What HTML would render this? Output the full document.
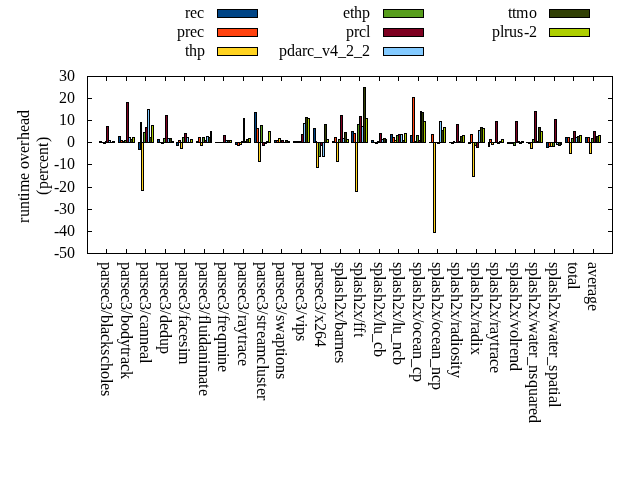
<!DOCTYPE html>
<html><head><meta charset="utf-8"><title>runtime overhead</title>
<style>html,body{margin:0;padding:0;background:#fff;overflow:hidden}svg{display:block}text{font-family:"Liberation Serif","DejaVu Serif",serif;font-size:16px;fill:#000}</style></head><body>
<svg width="640" height="480" viewBox="0 0 640 480">
<rect width="640" height="480" fill="#fff"/>
<g shape-rendering="crispEdges">
<path fill="#000" d="M99 141h3v2h-3zM118 136h3v7h-3zM138 142h3v8h-3zM157 139h3v4h-3zM176 142h3v4h-3zM196 141h3v2h-3zM215 142h3v1h-3zM235 142h3v3h-3zM254 112h3v31h-3zM274 140h3v3h-3zM293 141h3v2h-3zM313 128h3v15h-3zM332 141h3v2h-3zM351 131h3v12h-3zM371 140h3v3h-3zM390 134h3v9h-3zM410 135h3v8h-3zM429 142h3v1h-3zM449 142h3v1h-3zM468 142h3v2h-3zM488 142h2v5h-2zM507 142h3v2h-3zM526 142h3v1h-3zM546 142h3v6h-3zM565 137h3v6h-3zM585 137h3v6h-3z"/>
<path fill="#004586" d="M119 137h1v5h-1zM139 143h1v6h-1zM158 140h1v2h-1zM177 143h1v2h-1zM236 143h1v1h-1zM255 113h1v29h-1zM275 141h1v1h-1zM314 129h1v13h-1zM352 132h1v10h-1zM372 141h1v1h-1zM391 135h1v7h-1zM411 136h1v6h-1zM547 143h1v4h-1zM566 138h1v4h-1zM586 138h1v4h-1z"/>
<path fill="#000" d="M101 142h3v1h-3zM120 140h3v3h-3zM140 122h2v21h-2zM159 142h3v1h-3zM178 140h3v3h-3zM198 137h3v6h-3zM217 142h3v1h-3zM237 142h3v4h-3zM256 128h3v15h-3zM276 140h3v3h-3zM295 141h3v2h-3zM315 141h2v2h-2zM334 137h3v6h-3zM353 133h3v10h-3zM373 142h3v1h-3zM392 137h3v6h-3zM412 97h3v46h-3zM431 134h3v9h-3zM451 142h3v2h-3zM470 134h3v9h-3zM489 139h3v4h-3zM509 142h3v2h-3zM528 142h3v2h-3zM548 142h3v5h-3zM567 137h3v6h-3zM587 137h3v6h-3z"/>
<path fill="#ff420e" d="M121 141h1v1h-1zM179 141h1v1h-1zM199 138h1v4h-1zM238 143h1v2h-1zM257 129h1v13h-1zM277 141h1v1h-1zM335 138h1v4h-1zM354 134h1v8h-1zM393 138h1v4h-1zM413 98h1v44h-1zM432 135h1v7h-1zM471 135h1v7h-1zM490 140h1v2h-1zM549 143h1v3h-1zM568 138h1v4h-1zM588 138h1v4h-1z"/>
<path fill="#000" d="M103 142h3v2h-3zM122 141h3v2h-3zM141 142h3v49h-3zM161 142h3v2h-3zM180 142h3v7h-3zM200 142h3v4h-3zM219 142h3v1h-3zM239 142h3v3h-3zM258 142h3v20h-3zM278 138h3v5h-3zM297 141h3v2h-3zM316 142h3v26h-3zM336 142h3v20h-3zM355 142h3v50h-3zM375 142h3v2h-3zM394 140h3v3h-3zM414 141h3v2h-3zM433 142h3v91h-3zM453 141h2v2h-2zM472 142h3v35h-3zM491 142h3v3h-3zM511 142h3v2h-3zM530 142h3v7h-3zM550 142h3v5h-3zM569 142h3v12h-3zM589 142h3v12h-3z"/>
<path fill="#ffd320" d="M142 143h1v47h-1zM181 143h1v5h-1zM201 143h1v2h-1zM240 143h1v1h-1zM259 143h1v18h-1zM279 139h1v3h-1zM317 143h1v24h-1zM337 143h1v18h-1zM356 143h1v48h-1zM395 141h1v1h-1zM434 143h1v89h-1zM473 143h1v33h-1zM492 143h1v1h-1zM531 143h1v5h-1zM551 143h1v3h-1zM570 143h1v10h-1zM590 143h1v10h-1z"/>
<path fill="#000" d="M105 141h2v2h-2zM124 140h3v3h-3zM143 132h3v11h-3zM163 138h3v5h-3zM182 137h3v6h-3zM202 137h3v6h-3zM221 142h3v1h-3zM241 141h3v2h-3zM260 125h3v18h-3zM280 140h2v3h-2zM299 141h3v2h-3zM318 142h3v15h-3zM338 139h3v4h-3zM357 124h3v19h-3zM377 141h3v2h-3zM396 135h3v8h-3zM416 135h3v8h-3zM435 142h3v1h-3zM454 142h3v1h-3zM474 142h3v4h-3zM493 142h3v1h-3zM513 142h3v4h-3zM532 139h3v4h-3zM552 142h3v5h-3zM571 138h3v5h-3zM591 138h3v5h-3z"/>
<path fill="#579d1c" d="M125 141h1v1h-1zM144 133h1v9h-1zM164 139h1v3h-1zM183 138h1v4h-1zM203 138h1v4h-1zM261 126h1v16h-1zM319 143h1v13h-1zM339 140h1v2h-1zM358 125h1v17h-1zM397 136h1v6h-1zM417 136h1v6h-1zM475 143h1v2h-1zM514 143h1v2h-1zM533 140h1v2h-1zM553 143h1v3h-1zM572 139h1v3h-1zM592 139h1v3h-1z"/>
<path fill="#000" d="M106 126h3v17h-3zM126 102h3v41h-3zM145 127h3v16h-3zM165 115h3v28h-3zM184 133h3v10h-3zM204 140h3v3h-3zM223 135h3v8h-3zM243 118h2v25h-2zM262 142h3v4h-3zM281 140h3v3h-3zM301 134h3v9h-3zM320 142h3v4h-3zM340 115h3v28h-3zM359 116h3v27h-3zM379 133h3v10h-3zM398 134h3v9h-3zM418 140h3v3h-3zM437 142h3v2h-3zM456 124h3v19h-3zM476 142h3v6h-3zM495 121h3v22h-3zM515 121h3v22h-3zM534 111h3v32h-3zM554 119h3v24h-3zM573 131h3v12h-3zM593 131h3v12h-3z"/>
<path fill="#7e0021" d="M107 127h1v15h-1zM127 103h1v39h-1zM146 128h1v14h-1zM166 116h1v26h-1zM185 134h1v8h-1zM205 141h1v1h-1zM224 136h1v6h-1zM263 143h1v2h-1zM282 141h1v1h-1zM302 135h1v7h-1zM321 143h1v2h-1zM341 116h1v26h-1zM360 117h1v25h-1zM380 134h1v8h-1zM399 135h1v7h-1zM419 141h1v1h-1zM457 125h1v17h-1zM477 143h1v4h-1zM496 122h1v20h-1zM516 122h1v20h-1zM535 112h1v30h-1zM555 120h1v22h-1zM574 132h1v10h-1zM594 132h1v10h-1z"/>
<path fill="#000" d="M108 140h3v3h-3zM128 137h3v6h-3zM147 109h3v34h-3zM167 138h3v5h-3zM186 137h3v6h-3zM206 136h3v7h-3zM225 140h3v3h-3zM244 141h3v2h-3zM264 142h3v2h-3zM283 142h3v1h-3zM303 123h3v20h-3zM322 142h3v15h-3zM342 138h3v5h-3zM361 126h3v17h-3zM381 139h3v4h-3zM400 134h3v9h-3zM420 111h2v32h-2zM439 121h3v22h-3zM458 141h3v2h-3zM478 130h3v13h-3zM497 142h3v2h-3zM517 141h3v2h-3zM536 141h3v2h-3zM556 142h3v3h-3zM575 137h3v6h-3zM595 137h2v6h-2z"/>
<path fill="#83caff" d="M109 141h1v1h-1zM129 138h1v4h-1zM148 110h1v32h-1zM168 139h1v3h-1zM187 138h1v4h-1zM207 137h1v5h-1zM226 141h1v1h-1zM304 124h1v18h-1zM323 143h1v13h-1zM343 139h1v3h-1zM362 127h1v15h-1zM382 140h1v2h-1zM401 135h1v7h-1zM440 122h1v20h-1zM479 131h1v11h-1zM557 143h1v1h-1zM576 138h1v4h-1z"/>
<path fill="#000" d="M110 142h3v1h-3zM130 139h3v4h-3zM149 137h3v6h-3zM169 138h3v5h-3zM188 142h3v1h-3zM208 137h3v6h-3zM227 140h3v3h-3zM246 139h3v4h-3zM266 141h3v2h-3zM285 140h3v3h-3zM305 117h3v26h-3zM324 124h3v19h-3zM344 132h3v11h-3zM363 87h3v56h-3zM383 138h3v5h-3zM402 140h3v3h-3zM421 112h3v31h-3zM441 130h3v13h-3zM460 136h3v7h-3zM480 127h3v16h-3zM499 141h3v2h-3zM519 142h3v2h-3zM538 127h3v16h-3zM558 142h3v4h-3zM577 136h3v7h-3zM596 136h3v7h-3z"/>
<path fill="#314004" d="M131 140h1v2h-1zM150 138h1v4h-1zM170 139h1v3h-1zM209 138h1v4h-1zM228 141h1v1h-1zM247 140h1v2h-1zM286 141h1v1h-1zM306 118h1v24h-1zM325 125h1v17h-1zM345 133h1v9h-1zM364 88h1v54h-1zM384 139h1v3h-1zM403 141h1v1h-1zM422 113h1v29h-1zM442 131h1v11h-1zM461 137h1v5h-1zM481 128h1v14h-1zM539 128h1v14h-1zM559 143h1v2h-1zM578 137h1v5h-1zM597 137h1v5h-1z"/>
<path fill="#000" d="M112 141h3v2h-3zM132 137h3v6h-3zM151 125h3v18h-3zM171 141h3v2h-3zM190 139h3v4h-3zM210 131h2v12h-2zM229 140h3v3h-3zM248 138h3v5h-3zM268 131h3v12h-3zM287 141h3v2h-3zM307 118h3v25h-3zM326 139h3v4h-3zM346 139h3v4h-3zM365 118h3v25h-3zM385 139h2v4h-2zM404 133h3v10h-3zM423 121h3v22h-3zM443 127h3v16h-3zM462 135h3v8h-3zM482 128h3v15h-3zM501 139h3v4h-3zM521 141h3v2h-3zM540 131h3v12h-3zM560 142h2v3h-2zM579 135h3v8h-3zM598 135h3v8h-3z"/>
<path fill="#aecf00" d="M133 138h1v4h-1zM152 126h1v16h-1zM191 140h1v2h-1zM230 141h1v1h-1zM249 139h1v3h-1zM269 132h1v10h-1zM308 119h1v23h-1zM327 140h1v2h-1zM347 140h1v2h-1zM366 119h1v23h-1zM405 134h1v8h-1zM424 122h1v20h-1zM444 128h1v14h-1zM463 136h1v6h-1zM483 129h1v13h-1zM502 140h1v2h-1zM541 132h1v10h-1zM580 136h1v6h-1zM599 136h1v6h-1z"/>
</g>
<g shape-rendering="crispEdges" stroke="#000" stroke-width="1" fill="none">
<path d="M87.5 253.5h4.5M612.5 253.5h-4.5M87.5 231.5h4.5M612.5 231.5h-4.5M87.5 209.5h4.5M612.5 209.5h-4.5M87.5 187.5h4.5M612.5 187.5h-4.5M87.5 164.5h4.5M612.5 164.5h-4.5M87.5 142.5h4.5M612.5 142.5h-4.5M87.5 120.5h4.5M612.5 120.5h-4.5M87.5 98.5h4.5M612.5 98.5h-4.5M87.5 76.5h4.5M612.5 76.5h-4.5M106.5 76.5v4.5M106.5 253.5v-4.5M126.5 76.5v4.5M126.5 253.5v-4.5M145.5 76.5v4.5M145.5 253.5v-4.5M165.5 76.5v4.5M165.5 253.5v-4.5M184.5 76.5v4.5M184.5 253.5v-4.5M204.5 76.5v4.5M204.5 253.5v-4.5M223.5 76.5v4.5M223.5 253.5v-4.5M243.5 76.5v4.5M243.5 253.5v-4.5M262.5 76.5v4.5M262.5 253.5v-4.5M281.5 76.5v4.5M281.5 253.5v-4.5M301.5 76.5v4.5M301.5 253.5v-4.5M320.5 76.5v4.5M320.5 253.5v-4.5M340.5 76.5v4.5M340.5 253.5v-4.5M359.5 76.5v4.5M359.5 253.5v-4.5M379.5 76.5v4.5M379.5 253.5v-4.5M398.5 76.5v4.5M398.5 253.5v-4.5M418.5 76.5v4.5M418.5 253.5v-4.5M437.5 76.5v4.5M437.5 253.5v-4.5M456.5 76.5v4.5M456.5 253.5v-4.5M476.5 76.5v4.5M476.5 253.5v-4.5M495.5 76.5v4.5M495.5 253.5v-4.5M515.5 76.5v4.5M515.5 253.5v-4.5M534.5 76.5v4.5M534.5 253.5v-4.5M554.5 76.5v4.5M554.5 253.5v-4.5M573.5 76.5v4.5M573.5 253.5v-4.5M593.5 76.5v4.5M593.5 253.5v-4.5"/>
<rect x="87.5" y="76.5" width="525.0" height="177.0"/>
</g>
<text x="54 59 67" y="259 258 258">-50</text>
<text x="54 59 67" y="237 236 236">-40</text>
<text x="54 59 67" y="215 214 214">-30</text>
<text x="54 59 67" y="193 192 192">-20</text>
<text x="54 59 67" y="170 169 169">-10</text>
<text x="67" y="147">0</text>
<text x="59 67" y="125">10</text>
<text x="59 67" y="103">20</text>
<text x="59 67" y="81">30</text>
<text transform="translate(101,262) rotate(90)" x="0 8 15 20 26 33 40 48 53 61 65 72 79 87 94 101 109 117 121 128" y="0">parsec3/blackscholes</text>
<text transform="translate(121,262) rotate(90)" x="0 8 15 20 26 33 40 48 53 61 69 77 85 89 95 102 109" y="0">parsec3/bodytrack</text>
<text transform="translate(140,262) rotate(90)" x="0 8 15 20 26 33 40 48 53 60 67 75 83 90 97" y="0">parsec3/canneal</text>
<text transform="translate(160,262) rotate(90)" x="0 8 15 20 26 33 40 48 53 61 68 76 84" y="0">parsec3/dedup</text>
<text transform="translate(179,262) rotate(90)" x="0 8 15 20 26 33 40 48 53 58 65 72 79 86 90" y="0">parsec3/facesim</text>
<text transform="translate(199,262) rotate(90)" x="0 8 15 20 26 33 40 48 53 58 63 71 75 83 90 98 103 115 122 127" y="0">parsec3/fluidanimate</text>
<text transform="translate(218,262) rotate(90)" x="0 8 15 20 26 33 40 48 53 58 63 71 79 91 95 103" y="0">parsec3/freqmine</text>
<text transform="translate(238,262) rotate(90)" x="0 8 15 20 26 33 40 48 53 58 65 73 78 83 90 97" y="0">parsec3/raytrace</text>
<text transform="translate(257,262) rotate(90)" x="0 8 15 20 26 33 40 48 53 59 63 69 76 83 95 103 107 115 121 126 133" y="0">parsec3/streamcluster</text>
<text transform="translate(276,262) rotate(90)" x="0 8 15 20 26 33 40 48 53 59 71 78 86 90 95 103 111" y="0">parsec3/swaptions</text>
<text transform="translate(296,262) rotate(90)" x="0 8 15 20 26 33 40 48 53 61 65 73" y="0">parsec3/vips</text>
<text transform="translate(315,262) rotate(90)" x="0 8 15 20 26 33 40 48 53 61 69 77" y="0">parsec3/x264</text>
<text transform="translate(335,262) rotate(90)" x="0 6 14 18 25 32 40 48 56 60 68 75 80 88 95" y="0">splash2x/barnes</text>
<text transform="translate(354,262) rotate(90)" x="0 6 14 18 25 32 40 48 56 60 65 71" y="0">splash2x/fft</text>
<text transform="translate(374,262) rotate(90)" x="0 6 14 18 25 32 40 48 56 60 64 72 80 87" y="0">splash2x/lu_cb</text>
<text transform="translate(393,262) rotate(90)" x="0 6 14 18 25 32 40 48 56 60 64 72 80 88 95" y="0">splash2x/lu_ncb</text>
<text transform="translate(413,262) rotate(90)" x="0 6 14 18 25 32 40 48 56 60 68 75 82 89 97 105 112" y="0">splash2x/ocean_cp</text>
<text transform="translate(432,262) rotate(90)" x="0 6 14 18 25 32 40 48 56 60 68 75 82 89 97 105 113 120" y="0">splash2x/ocean_ncp</text>
<text transform="translate(451,262) rotate(90)" x="0 6 14 18 25 32 40 48 56 60 65 72 80 85 93 99 103 108" y="0">splash2x/radiosity</text>
<text transform="translate(471,262) rotate(90)" x="0 6 14 18 25 32 40 48 56 60 65 72 80 85" y="0">splash2x/radix</text>
<text transform="translate(490,262) rotate(90)" x="0 6 14 18 25 32 40 48 56 60 65 72 80 85 90 97 104" y="0">splash2x/raytrace</text>
<text transform="translate(510,262) rotate(90)" x="0 6 14 18 25 32 40 48 56 60 68 76 80 86 93 101" y="0">splash2x/volrend</text>
<text transform="translate(529,262) rotate(90)" x="0 6 14 18 25 32 40 48 56 60 72 79 83 90 95 103 111 118 126 134 141 146 153" y="0">splash2x/water_nsquared</text>
<text transform="translate(549,262) rotate(90)" x="0 6 14 18 25 32 40 48 56 60 72 79 83 90 95 103 110 118 125 129 134 141" y="0">splash2x/water_spatial</text>
<text transform="translate(568,262) rotate(90)" x="0 4 12 16 23" y="0">total</text>
<text transform="translate(588,262) rotate(90)" x="0 7 15 22 27 34 42" y="0">average</text>
<text transform="translate(29,223) rotate(-90)" x="0 6 14 22 26 31 43 50 54 62 70 77 83 91 98 105" y="0">runtime overhead</text>
<text transform="translate(48,195) rotate(-90)" x="0 6 14 21 26 33 40 48 53" y="0">(percent)</text>
<text x="185 190 197" y="18">rec</text>
<rect x="217.5" y="9.5" width="40" height="8" fill="#004586" stroke="#000" stroke-width="1" shape-rendering="crispEdges"/>
<text x="177 185 190 197" y="37">prec</text>
<rect x="217.5" y="28.5" width="40" height="8" fill="#ff420e" stroke="#000" stroke-width="1" shape-rendering="crispEdges"/>
<text x="185 189 197" y="56">thp</text>
<rect x="217.5" y="47.5" width="40" height="8" fill="#ffd320" stroke="#000" stroke-width="1" shape-rendering="crispEdges"/>
<text x="343 350 354 362" y="18">ethp</text>
<rect x="383.5" y="9.5" width="40" height="8" fill="#579d1c" stroke="#000" stroke-width="1" shape-rendering="crispEdges"/>
<text x="346 354 359 366" y="37">prcl</text>
<rect x="383.5" y="28.5" width="40" height="8" fill="#7e0021" stroke="#000" stroke-width="1" shape-rendering="crispEdges"/>
<text x="279 287 295 302 307 314 322 330 338 346 354 362" y="56">pdarc_v4_2_2</text>
<rect x="383.5" y="47.5" width="40" height="8" fill="#83caff" stroke="#000" stroke-width="1" shape-rendering="crispEdges"/>
<text x="508 512 516 529" y="18">ttmo</text>
<rect x="549.5" y="9.5" width="40" height="8" fill="#314004" stroke="#000" stroke-width="1" shape-rendering="crispEdges"/>
<text x="492 500 504 509 517 524 529" y="37 37 37 37 37 38 37">plrus-2</text>
<rect x="549.5" y="28.5" width="40" height="8" fill="#aecf00" stroke="#000" stroke-width="1" shape-rendering="crispEdges"/>
</svg></body></html>
